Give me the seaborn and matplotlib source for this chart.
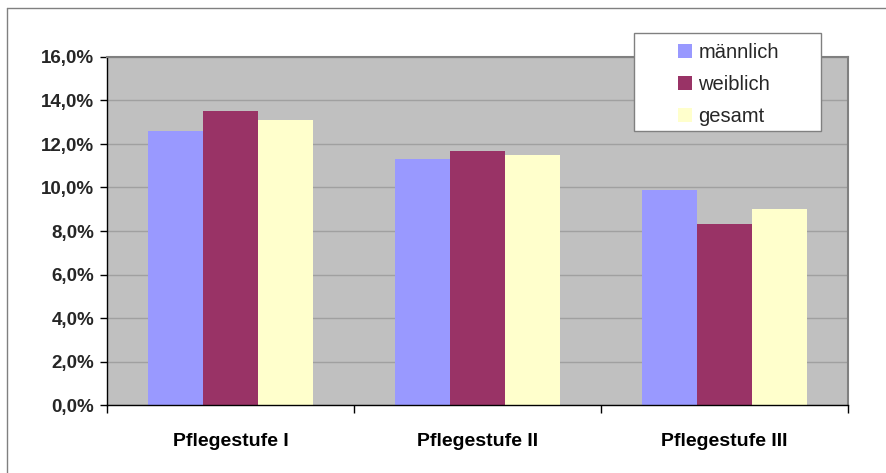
import matplotlib
matplotlib.use("Agg")
import matplotlib.pyplot as plt
from matplotlib.lines import Line2D
from matplotlib.patches import Rectangle, Patch
from matplotlib.ticker import FuncFormatter
import seaborn as sns
import pandas as pd

categories = ["Pflegestufe I", "Pflegestufe II", "Pflegestufe III"]
series = ["männlich", "weiblich", "gesamt"]
maennlich = [12.6, 11.3, 9.9]
weiblich = [13.5, 11.7, 8.3]
gesamt = [13.1, 11.5, 9.0]
colors = ["#9999FF", "#993366", "#FFFFCC"]

df = pd.DataFrame({
    "Stufe": categories * 3,
    "Gruppe": [s for s in series for _ in categories],
    "Anteil": maennlich + weiblich + gesamt,
})

sns.set_theme(style="white")
plt.rcParams["font.family"] = ["Liberation Sans", "DejaVu Sans"]

W, H = 887, 473
fig = plt.figure(figsize=(W / 100, H / 100), dpi=100)
fig.patch.set_facecolor("white")

# plot area in pixel coordinates
x0, x1, y0, y1 = 107, 848, 57, 405
ax = fig.add_axes([x0 / W, 1 - y1 / H, (x1 - x0) / W, (y1 - y0) / H])
ax.set_facecolor("#C0C0C0")

sns.barplot(data=df, x="Stufe", y="Anteil", hue="Gruppe", order=categories,
            hue_order=series, palette=colors, width=0.67, gap=0,
            saturation=1, linewidth=0, legend=False, ax=ax)

ax.set_ylim(0, 16)
ax.set_xlim(-0.5, 2.5)
ax.set_yticks(range(0, 17, 2))
ax.yaxis.set_major_formatter(FuncFormatter(lambda v, p: f"{v:.1f}%".replace(".", ",")))
ax.yaxis.grid(True, color="#A0A0A0", linewidth=1)
ax.set_axisbelow(True)
ax.set_xlabel("")
ax.set_ylabel("")

ax.set_xticks([0, 1, 2])
ax.set_xticklabels(categories, fontsize=14, fontweight="bold", color="black")
ax.set_xticks([-0.5, 0.5, 1.5, 2.5], minor=True)
ax.tick_params(axis="x", which="major", length=0, pad=20)
ax.tick_params(axis="x", which="minor", length=6, width=1, color="black", direction="out", bottom=True)
ax.tick_params(axis="y", length=5, width=1, color="black", direction="out", left=True,
               labelsize=13.5, pad=4)
for lab in ax.get_yticklabels():
    lab.set_fontweight("bold")

for s in ["left", "bottom"]:
    ax.spines[s].set_color("black")
    ax.spines[s].set_linewidth(1)
for s in ["top", "right"]:
    ax.spines[s].set_color("#808080")
    ax.spines[s].set_linewidth(1.5)

# legend box
lx0, ly0, lx1, ly1 = 634, 33, 821, 131
fig.patches.append(Rectangle((lx0 / W, 1 - ly1 / H), (lx1 - lx0) / W, (ly1 - ly0) / H,
                             transform=fig.transFigure, facecolor="white",
                             edgecolor="#808080", linewidth=1, zorder=5))
handles = [Patch(facecolor=c, edgecolor="none") for c in colors]
leg = fig.legend(handles, series, loc="upper left",
                 bbox_to_anchor=(668 / W, 1 - 33 / H), frameon=False,
                 fontsize=14.5, handlelength=0.7, handleheight=0.7,
                 handletextpad=0.3, labelspacing=0.65, borderpad=0)
leg.set_zorder(6)

# outer chart border
fig.add_artist(Line2D([7 / W, 7 / W], [0, 1 - 8 / H], transform=fig.transFigure,
                      color="#808080", linewidth=1))
fig.add_artist(Line2D([7 / W, 1], [1 - 8 / H, 1 - 8 / H], transform=fig.transFigure,
                      color="#808080", linewidth=1))

fig.savefig("out.png", dpi=100, facecolor="white")
